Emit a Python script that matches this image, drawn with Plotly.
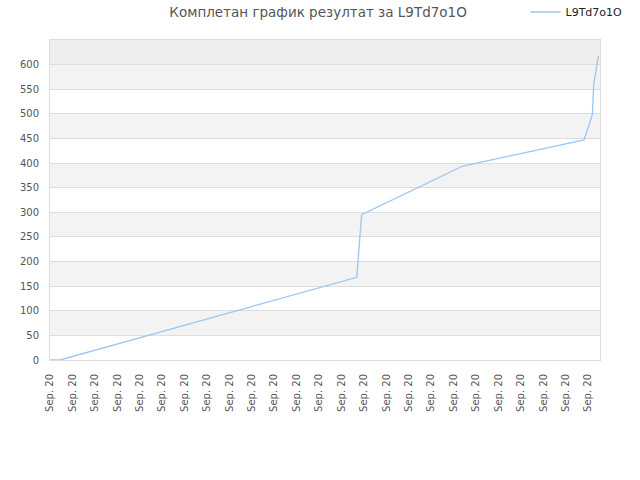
import plotly.graph_objects as go

# point positions along the x axis (tick units) and scores
pozicije = [0, 0.45, 13.68, 13.90, 18.41, 23.82, 24.19, 24.25, 24.46]
rezultati = [0, 0, 168, 295, 394, 447, 499, 561, 618]

oznake_x = ["Sep. 20"] * 25
vrednosti_y = [0, 50, 100, 150, 200, 250, 300, 350, 400, 450, 500, 550, 600]
igrac = "L9Td7o1O"

fig = go.Figure()
fig.add_trace(go.Scatter(x=pozicije, y=rezultati, mode="lines", name=igrac,
                         line=dict(color="#99c6f2", width=1.3)))

# naizmenične trake u pozadini
trake = []
for i, v in enumerate(vrednosti_y):
    if i % 2 == 1:
        trake.append(dict(type="rect", xref="paper", yref="y", x0=0, x1=1,
                          y0=v, y1=v + 50, fillcolor="#f3f3f3", line_width=0, layer="below"))
trake.append(dict(type="rect", xref="paper", yref="y", x0=0, x1=1,
                  y0=600, y1=650, fillcolor="#eeeeee", line_width=0, layer="below"))

fig.update_layout(
    width=640, height=480,
    margin=dict(l=50, r=40, t=40, b=120, autoexpand=False),
    paper_bgcolor="white", plot_bgcolor="white",
    font=dict(family="DejaVu Sans", size=10, color="#555"),
    title=dict(text="Комплетан график резултат за " + igrac, x=0.497, xanchor="center",
               y=0.975, yanchor="middle", font=dict(size=13.5, color="#555")),
    showlegend=True,
    legend=dict(orientation="h", x=1.05, xanchor="right", y=1.0875, yanchor="middle",
                font=dict(size=11, color="#222"), bgcolor="rgba(0,0,0,0)"),
    shapes=trake,
)
fig.update_xaxes(range=[0, 24.53], tickmode="array", tickvals=list(range(len(oznake_x))),
                 ticktext=oznake_x, tickangle=-90, showgrid=False, zeroline=False,
                 showline=True, linecolor="#dddddd", mirror=True,
                 ticks="outside", ticklen=9, tickcolor="rgba(0,0,0,0)",
                 automargin=False, tickfont=dict(size=10, color="#555"))
fig.update_yaxes(range=[0, 650], tickmode="array", tickvals=vrednosti_y,
                 showgrid=True, gridcolor="#dddddd", zeroline=False,
                 showline=True, linecolor="#dddddd", mirror=True,
                 ticks="outside", ticklen=8, tickcolor="rgba(0,0,0,0)",
                 automargin=False, tickfont=dict(size=10, color="#555"))

# bez podrazumevane margine stranice i bez trake sa alatkama
fig.write_html("out.html", config={"displayModeBar": False},
               post_script="document.body.style.margin='0';")
